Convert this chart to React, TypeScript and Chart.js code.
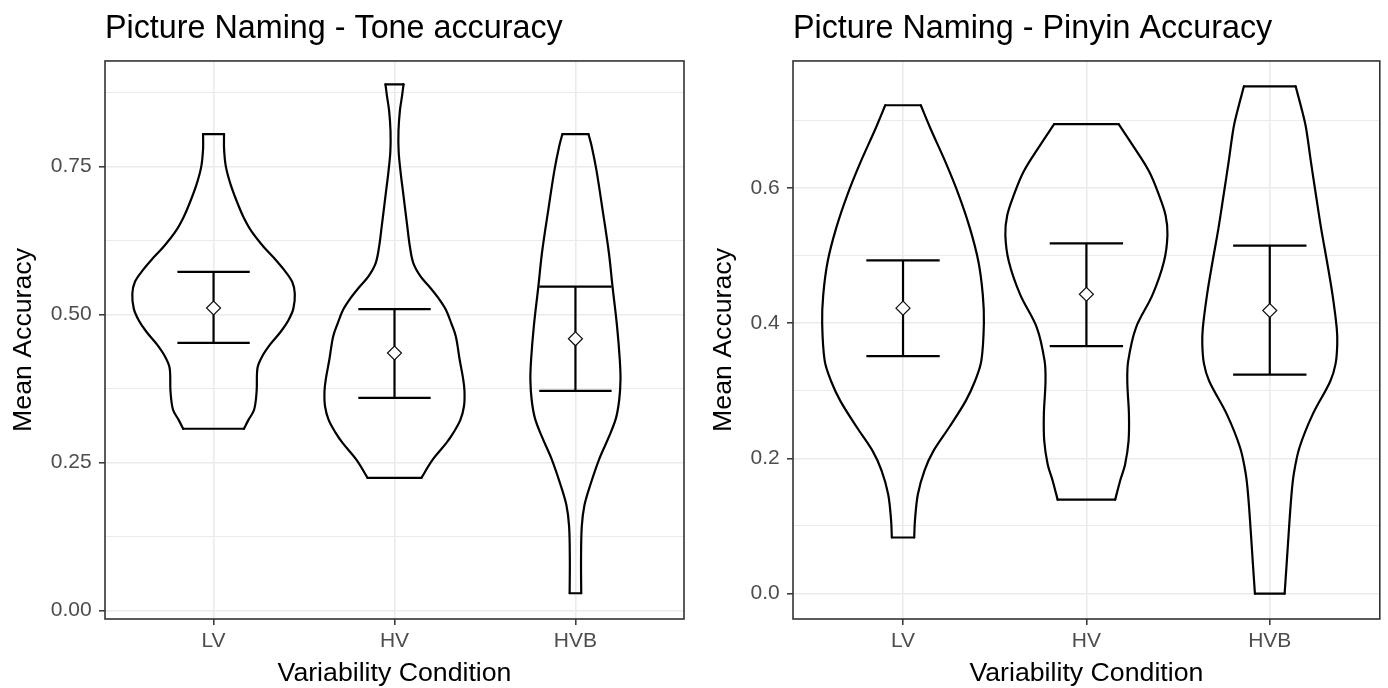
import React, { useEffect, useRef } from 'react';
import { Chart, registerables } from 'chart.js';

Chart.register(...registerables);

// ---------- DATA ----------
const categories = ['LV', 'HV', 'HVB'];

// Tone accuracy panel
const toneTitle = 'Picture Naming - Tone accuracy';
const toneMajorTicks = [0, 0.25, 0.5, 0.75];
const toneMajorLabels = ['0.00', '0.25', '0.50', '0.75'];
const toneMinorTicks = [0.125, 0.375, 0.625, 0.875];
const toneMeans = [0.511, 0.435, 0.459];
const toneLower = [0.452, 0.359, 0.371];
const toneUpper = [0.572, 0.509, 0.547];

const toneLVy = [0.307, 0.322, 0.339, 0.37, 0.41, 0.43, 0.45, 0.47, 0.49, 0.51, 0.535, 0.555, 0.575, 0.595, 0.615, 0.64, 0.665, 0.69, 0.72, 0.75, 0.78, 0.805];
const toneLVw = [0.168, 0.193, 0.224, 0.238, 0.243, 0.27, 0.314, 0.369, 0.413, 0.441, 0.449, 0.435, 0.391, 0.336, 0.275, 0.211, 0.165, 0.13, 0.094, 0.068, 0.058, 0.058];
const toneHVy = [0.224, 0.254, 0.283, 0.3, 0.322, 0.345, 0.37, 0.39, 0.424, 0.463, 0.485, 0.508, 0.528, 0.547, 0.565, 0.587, 0.615, 0.648, 0.705, 0.74, 0.775, 0.81, 0.845, 0.87, 0.889];
const toneHVw = [0.149, 0.209, 0.287, 0.325, 0.364, 0.384, 0.387, 0.38, 0.36, 0.339, 0.314, 0.284, 0.242, 0.193, 0.143, 0.104, 0.085, 0.071, 0.048, 0.034, 0.023, 0.022, 0.03, 0.042, 0.05];
const toneHVBy = [0.029, 0.086, 0.142, 0.178, 0.212, 0.257, 0.294, 0.325, 0.356, 0.39, 0.424, 0.48, 0.547, 0.604, 0.677, 0.744, 0.784, 0.805];
const toneHVBw = [0.032, 0.031, 0.035, 0.05, 0.082, 0.133, 0.186, 0.224, 0.242, 0.249, 0.245, 0.23, 0.205, 0.185, 0.15, 0.116, 0.09, 0.072];

// Pinyin accuracy panel
const pinyinTitle = 'Picture Naming - Pinyin Accuracy';
const pinyinMajorTicks = [0, 0.2, 0.4, 0.6];
const pinyinMajorLabels = ['0.0', '0.2', '0.4', '0.6'];
const pinyinMinorTicks = [0.1, 0.3, 0.5, 0.7];
const pinyinMeans = [0.422, 0.4426, 0.4186];
const pinyinLower = [0.3512, 0.366, 0.3237];
const pinyinUpper = [0.4927, 0.5178, 0.5144];

const pinyinLVy = [0.083, 0.108, 0.147, 0.182, 0.211, 0.246, 0.285, 0.314, 0.344, 0.4, 0.442, 0.491, 0.54, 0.59, 0.639, 0.688, 0.722];
const pinyinLVw = [0.061, 0.065, 0.081, 0.117, 0.166, 0.252, 0.342, 0.392, 0.427, 0.441, 0.435, 0.411, 0.365, 0.303, 0.23, 0.149, 0.097];
const pinyinHVy = [0.139, 0.167, 0.191, 0.226, 0.265, 0.314, 0.344, 0.393, 0.442, 0.491, 0.53, 0.559, 0.589, 0.624, 0.663, 0.694];
const pinyinHVw = [0.157, 0.184, 0.211, 0.23, 0.232, 0.223, 0.228, 0.27, 0.361, 0.423, 0.442, 0.432, 0.396, 0.342, 0.252, 0.176];
const pinyinHVBy = [0.0, 0.044, 0.093, 0.142, 0.177, 0.216, 0.265, 0.314, 0.34, 0.369, 0.393, 0.442, 0.491, 0.54, 0.589, 0.639, 0.688, 0.712, 0.75];
const pinyinHVBw = [0.081, 0.092, 0.104, 0.117, 0.131, 0.162, 0.234, 0.33, 0.359, 0.368, 0.365, 0.342, 0.312, 0.28, 0.252, 0.224, 0.198, 0.178, 0.141];

// ---------- STYLE ----------
const FONT = "'Liberation Sans', Arial, Helvetica, sans-serif";
const ERRORBAR_HALF = 0.2;

function violinDatasets(cx: number, ys: number[], ws: number[]) {
  const n = ys.length - 1;
  const left = ys.map((y, i) => ({ x: cx - ws[i], y }));
  const right = ys.map((y, i) => ({ x: cx + ws[i], y }));
  const top = [{ x: cx - ws[n], y: ys[n] }, { x: cx + ws[n], y: ys[n] }];
  const bottom = [{ x: cx - ws[0], y: ys[0] }, { x: cx + ws[0], y: ys[0] }];
  return [left, right, top, bottom].map((data, k) => ({
    type: 'scatter',
    data,
    showLine: true,
    tension: k < 2 ? 0.35 : 0,
    pointRadius: 0,
    borderColor: '#000000',
    borderWidth: 2.2,
    borderCapStyle: 'round',
    fill: false,
    order: 3,
  }));
}

function errorDatasets(means: number[], lo: number[], hi: number[]) {
  const out: any[] = [];
  means.forEach((_, i) => {
    const c = i + 1;
    const segs = [
      [{ x: c, y: lo[i] }, { x: c, y: hi[i] }],
      [{ x: c - ERRORBAR_HALF, y: hi[i] }, { x: c + ERRORBAR_HALF, y: hi[i] }],
      [{ x: c - ERRORBAR_HALF, y: lo[i] }, { x: c + ERRORBAR_HALF, y: lo[i] }],
    ];
    segs.forEach((data) =>
      out.push({
        type: 'scatter',
        data,
        showLine: true,
        tension: 0,
        pointRadius: 0,
        borderColor: '#000000',
        borderWidth: 2.2,
        order: 2,
      })
    );
  });
  out.push({
    type: 'scatter',
    data: means.map((m, i) => ({ x: i + 1, y: m })),
    showLine: false,
    pointStyle: 'rectRot',
    pointRadius: 7,
    pointBorderWidth: 1.2,
    pointBorderColor: '#111111',
    pointBackgroundColor: '#ffffff',
    order: 1,
  });
  return out;
}

const panelBorder = {
  id: 'panelBorder',
  afterDraw(chart: any) {
    const { ctx, chartArea } = chart;
    const { left, top, right, bottom } = chartArea;
    ctx.save();
    ctx.strokeStyle = '#333333';
    ctx.lineWidth = 1.6;
    ctx.strokeRect(left, top, right - left, bottom - top);
    ctx.restore();
  },
};

interface PanelProps {
  title: string;
  violins: [number[], number[]][];
  means: number[];
  lower: number[];
  upper: number[];
  majors: number[];
  majorLabels: string[];
  minors: number[];
  yMin: number;
  yMax: number;
  yAxisWidth: number;
  padRight: number;
  yTitlePad: number;
}

function Panel(p: PanelProps) {
  const ref = useRef<HTMLCanvasElement | null>(null);
  useEffect(() => {
    if (!ref.current) return;
    const isMajor = (v: number) => p.majors.some((m) => Math.abs(m - v) < 1e-9);
    const allTicks = [...p.majors, ...p.minors].sort((a, b) => a - b);
    const datasets: any[] = [];
    p.violins.forEach(([ys, ws], i) => datasets.push(...violinDatasets(i + 1, ys, ws)));
    datasets.push(...errorDatasets(p.means, p.lower, p.upper));

    const chart = new Chart(ref.current, {
      type: 'scatter',
      data: { datasets },
      options: {
        animation: false,
        responsive: false,
        maintainAspectRatio: false,
        events: [],
        layout: { padding: { left: 0, right: p.padRight, top: 0, bottom: 0 } },
        plugins: {
          legend: { display: false },
          tooltip: { enabled: false },
          title: {
            display: true,
            text: p.title,
            align: 'start',
            fullSize: false,
            color: '#000000',
            font: { family: FONT, size: 32.3, weight: 'normal', lineHeight: 1.2 },
            padding: { top: 9.5, bottom: 12.7 },
          },
        },
        scales: {
          x: {
            type: 'linear',
            min: 0.4,
            max: 3.6,
            afterBuildTicks: (s: any) => {
              s.ticks = categories.map((_, i) => ({ value: i + 1 }));
            },
            afterFit: (s: any) => {
              s.height = 69;
            },
            border: { display: false },
            grid: {
              color: '#EBEBEB',
              lineWidth: 1.6,
              tickColor: '#333333',
              tickLength: 6,
              tickWidth: 1.5,
            },
            ticks: {
              autoSkip: false,
              maxRotation: 0,
              padding: 3.4,
              color: '#4D4D4D',
              font: { family: FONT, size: 21 },
              callback: (v: any) => categories[Math.round(Number(v)) - 1] ?? '',
            },
            title: {
              display: true,
              text: 'Variability Condition',
              color: '#000000',
              font: { family: FONT, size: 26.7, lineHeight: 1.07 },
              padding: { top: 0, bottom: 0 },
            },
          },
          y: {
            type: 'linear',
            min: p.yMin,
            max: p.yMax,
            afterBuildTicks: (s: any) => {
              s.ticks = allTicks.map((v) => ({ value: v }));
            },
            afterFit: (s: any) => {
              s.width = p.yAxisWidth;
            },
            border: { display: false },
            grid: {
              color: '#EBEBEB',
              lineWidth: (ctx: any) => (ctx.tick && isMajor(ctx.tick.value) ? 1.6 : 1.0),
              tickColor: (ctx: any) => (ctx.tick && isMajor(ctx.tick.value) ? '#333333' : 'rgba(0,0,0,0)'),
              tickLength: 6,
              tickWidth: 1.5,
            },
            ticks: {
              autoSkip: false,
              padding: 7.3,
              color: '#4D4D4D',
              font: { family: FONT, size: 21 },
              callback: (v: any) => {
                const idx = p.majors.findIndex((m) => Math.abs(m - Number(v)) < 1e-9);
                return idx >= 0 ? p.majorLabels[idx] : '';
              },
            },
            title: {
              display: true,
              text: 'Mean Accuracy',
              color: '#000000',
              font: { family: FONT, size: 26.7, lineHeight: 1.2 },
              padding: { top: p.yTitlePad, bottom: 0 },
            },
          },
        },
      } as any,
      plugins: [panelBorder],
    });
    return () => chart.destroy();
  }, []);
  return <canvas ref={ref} width={694} height={688} style={{ display: 'block' }} />;
}

export default function App() {
  return (
    <div
      style={{
        position: 'fixed',
        left: 0,
        top: 0,
        width: 1388,
        height: 688,
        background: '#ffffff',
        display: 'flex',
        flexDirection: 'row',
      }}
    >
      <Panel
        title={toneTitle}
        violins={[
          [toneLVy, toneLVw],
          [toneHVy, toneHVw],
          [toneHVBy, toneHVBw],
        ]}
        means={toneMeans}
        lower={toneLower}
        upper={toneUpper}
        majors={toneMajorTicks}
        majorLabels={toneMajorLabels}
        minors={toneMinorTicks}
        yMin={-0.0145}
        yMax={0.9285}
        yAxisWidth={105}
        padRight={10}
        yTitlePad={8}
      />
      <Panel
        title={pinyinTitle}
        violins={[
          [pinyinLVy, pinyinLVw],
          [pinyinHVy, pinyinHVw],
          [pinyinHVBy, pinyinHVBw],
        ]}
        means={pinyinMeans}
        lower={pinyinLower}
        upper={pinyinUpper}
        majors={pinyinMajorTicks}
        majorLabels={pinyinMajorLabels}
        minors={pinyinMinorTicks}
        yMin={-0.0375}
        yMax={0.7875}
        yAxisWidth={99}
        padRight={3.5}
        yTitlePad={14}
      />
    </div>
  );
}
